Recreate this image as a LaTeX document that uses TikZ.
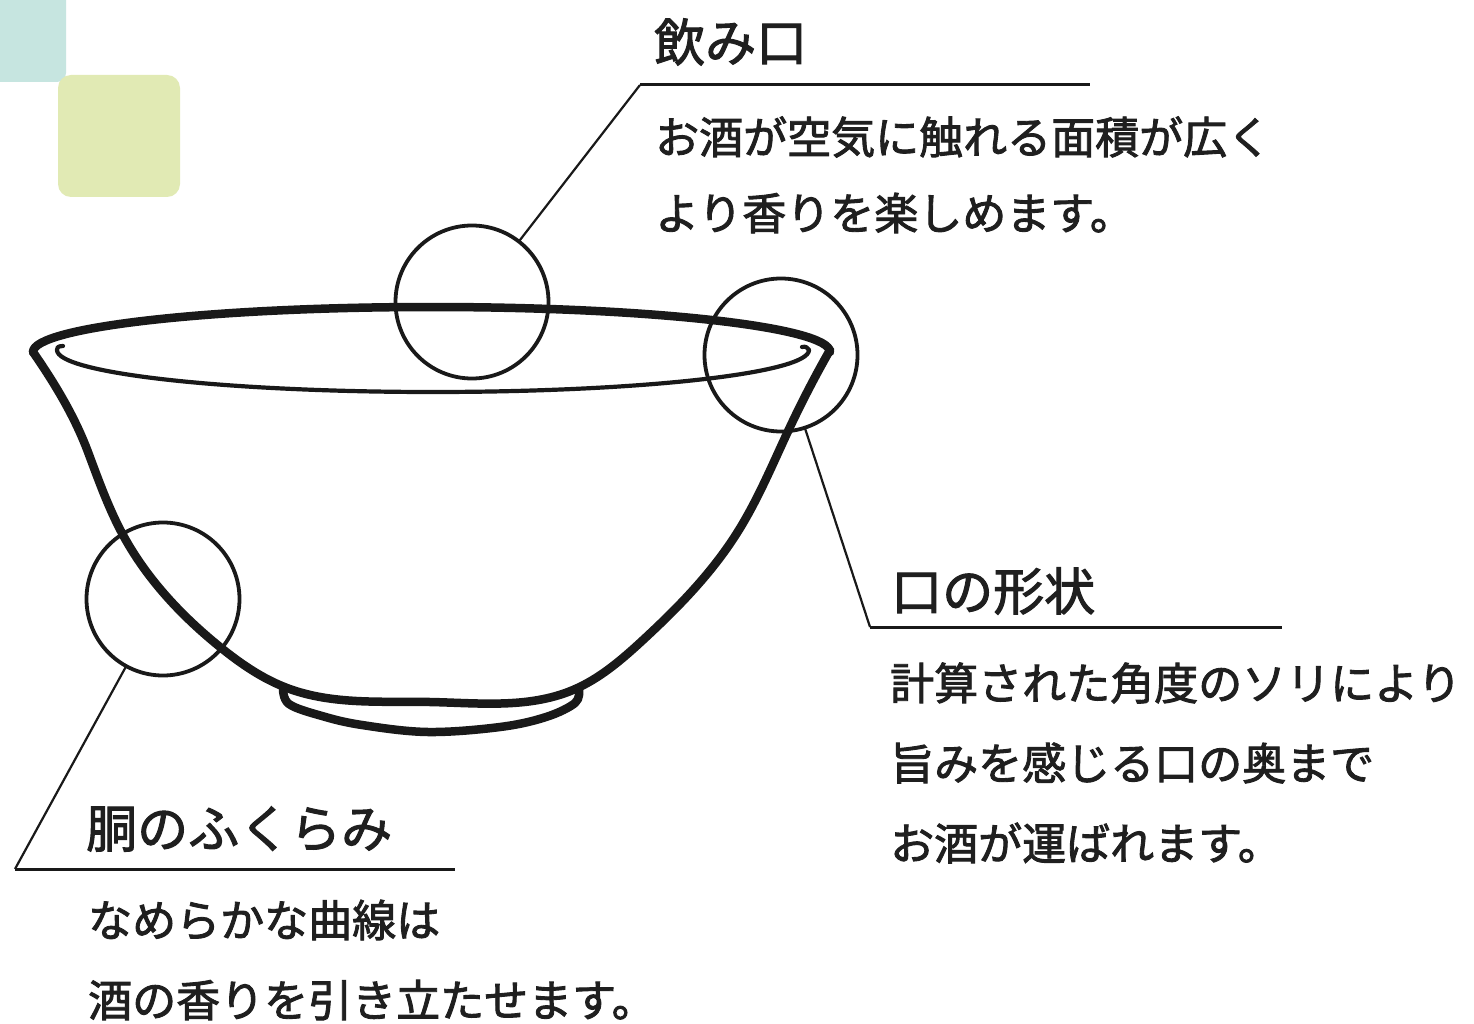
\documentclass[tikz,border=0pt]{standalone}
\usepackage{fontspec}
\usetikzlibrary{hobby}
\newfontfamily\jp[FakeBold=2]{Noto Sans CJK JP}
\begin{document}
\begin{tikzpicture}[x=1pt,y=-1pt,
  ink/.style={draw=black!90},
  bowlline/.style={ink,line width=8.5pt,line cap=round,line join=round},
  rimthin/.style={ink,line width=4.2pt,line cap=round,line join=round},
  ring/.style={circle,ink,line width=3.8pt,minimum size=153pt,inner sep=0pt,outer sep=0pt},
  leader/.style={ink,line width=2.2pt},
  rule/.style={ink,line width=3pt},
  heading/.style={anchor=west,inner sep=0pt,text=black!88,font=\jp\fontsize{51}{51}\selectfont},
  body/.style={anchor=west,inner sep=0pt,text=black!88,font=\jp\fontsize{44}{44}\selectfont},
]
\useasboundingbox (0,0) rectangle (1474,1024);
\fill[white] (0,0) rectangle (1474,1024);

% decorative tiles
\begin{scope}
  \clip (0,0) rectangle (1474,1024);
  \fill[fill={rgb,255:red,198;green,229;blue,224},rounded corners=9pt] (-30,-30) rectangle (66,82);
  \fill[fill={rgb,255:red,225;green,234;blue,180},rounded corners=13pt] (58,75) rectangle (180,197);
\end{scope}

% bowl: foot ring
\draw[bowlline] plot[smooth,tension=0.6] coordinates
  {(283,688) (289,704) (322,716) (362,725) (428,732) (500,727) (546,717) (575,703) (579,690)};
% bowl: body profile
\draw[bowlline,use Hobby shortcut] (33,352) .. (88,452) .. (123,535) .. (220,647)
  .. (287,688) .. (430,702) .. (573,690) .. (643,640) .. (737,533) .. (790,427) .. (830,350);
% bowl: back edge of the rim
\draw[bowlline] (33,352) arc[start angle=180,end angle=360,x radius=398.5,y radius=45];
% bowl: front edge of the rim, with small curls at both ends
\draw[rimthin] (63,346) .. controls (58,346) and (56,348) .. (57,350)
  arc[start angle=180,end angle=0,x radius=376,y radius=42];
\draw[rimthin] (809,350) .. controls (808,348) and (806,346) .. (802,347);

% detail rings
\node[ring] (topc) at (472,302) {};
\node[ring] (rightc) at (781,355) {};
\node[ring] (leftc) at (163,599) {};

% leader corners and rule ends
\coordinate (tk) at (640,85);
\coordinate (te) at (1090,85);
\coordinate (rk) at (870,627);
\coordinate (re) at (1282,627);
\coordinate (lk) at (15,869);
\coordinate (le) at (455,869);

\draw[leader] (topc) -- (tk);
\draw[rule] (tk) -- (te);
\draw[leader] (rightc) -- (rk);
\draw[rule] (rk) -- (re);
\draw[leader] (leftc) -- (lk);
\draw[rule] (lk) -- (le);

% labels
\node[heading] (h1) at (654,42) {飲み口};
\node[body] (b11) at (655,137) {お酒が空気に触れる面積が広く};
\node[body] (b12) at (655,213) {より香りを楽しめます。};

\node[heading] (h2) at (891,591) {口の形状};
\node[body] (b21) at (890,683) {計算された角度のソリにより};
\node[body] (b22) at (890,763) {旨みを感じる口の奥まで};
\node[body] (b23) at (890,843) {お酒が運ばれます。};

\node[heading] (h3) at (86,829) {胴のふくらみ};
\node[body] (b31) at (88,920) {なめらかな曲線は};
\node[body] (b32) at (88,1000) {酒の香りを引き立たせます。};
\end{tikzpicture}
\end{document}
